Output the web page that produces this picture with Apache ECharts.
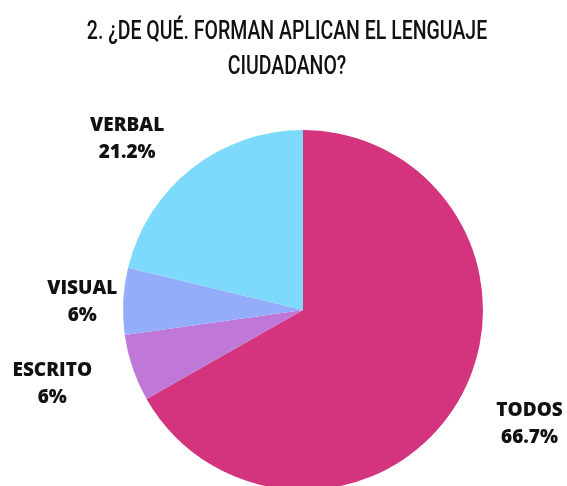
<!DOCTYPE html>
<html>
<head>
<meta charset="utf-8">
<style>
  html, body { margin: 0; padding: 0; background: #fff; }
  #main { width: 567px; height: 486px; }
</style>
<script src="https://cdn.jsdelivr.net/npm/echarts@6/dist/echarts.min.js"></script>
</head>
<body>
<div id="main"></div>
<script>
// values (clockwise from 12 o'clock)
const categories = ['TODOS', 'ESCRITO', 'VISUAL', 'VERBAL'];
const percents = [66.7, 6, 6, 21.2];
const colors = ['#D4347E', '#BF78D8', '#93ADFB', '#7DDAFD'];
// small nudges so the labels sit where the original has them
const labelNudge = [[40, 9], [-47, 6], [-6, 2], [-41, -6]];

const chart = echarts.init(document.getElementById('main'));

chart.setOption({
  backgroundColor: '#fff',
  animation: false,
  // title drawn as graphic text so it can be squeezed like the condensed original
  graphic: [{
    type: 'text',
    x: 287,
    y: 50,
    scaleX: 0.78,
    style: {
      text: '2. ¿DE QUÉ. FORMAN APLICAN EL LENGUAJE\nCIUDADANO?',
      font: '500 25px Roboto, sans-serif',
      fill: '#111',
      align: 'center',
      verticalAlign: 'middle',
      lineHeight: 35
    }
  }],
  series: [{
    type: 'pie',
    center: [303, 310],
    radius: 180,
    startAngle: 90,
    clockwise: true,
    label: {
      show: true,
      position: 'outside',
      formatter: p => p.name + '\n' + p.value + '%',
      fontFamily: '"Open Sans", sans-serif',
      fontWeight: 800,
      fontSize: 19,
      lineHeight: 27,
      color: '#111',
      align: 'center'
    },
    labelLine: { show: false, length: 30, length2: 0 },
    labelLayout: function (params) {
      const n = labelNudge[params.dataIndex];
      return { align: 'center', dx: n[0], dy: n[1] };
    },
    itemStyle: { borderWidth: 0 },
    emphasis: { disabled: true },
    data: categories.map((c, i) => ({
      name: c,
      value: percents[i],
      itemStyle: { color: colors[i] }
    }))
  }]
});
</script>
</body>
</html>
